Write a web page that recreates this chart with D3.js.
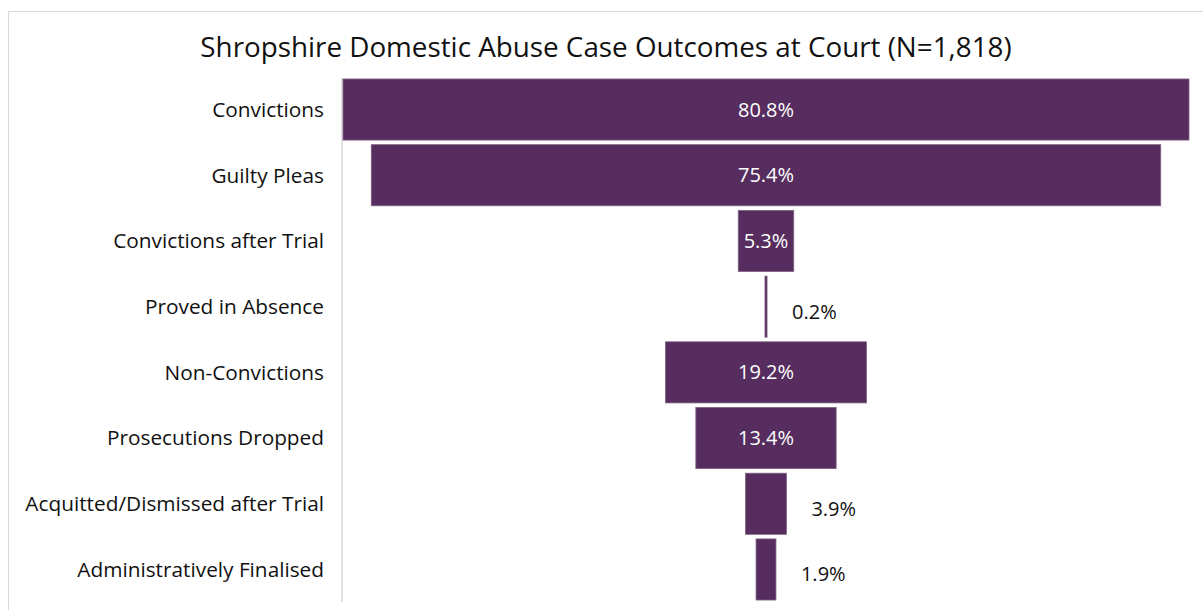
<!DOCTYPE html>
<meta charset="utf-8">
<style>
  body { margin: 0; background: #fff; }
  svg { font-family: "Open Sans", "Liberation Sans", Arial, sans-serif; }
  .frame { fill: none; stroke: #d9d9d9; }
  .axis-line { stroke: #d9d9d9; stroke-width: 1.5; }
  .bar { fill: #562d5e; stroke: #7f6284; stroke-width: 0.8; }
</style>
<body>
  <svg id="chart" width="1203" height="610"></svg>
</body>
<script src="https://d3js.org/d3.v7.min.js"></script>
<script>
// data
var categories = ["Convictions", "Guilty Pleas", "Convictions after Trial", "Proved in Absence",
  "Non-Convictions", "Prosecutions Dropped", "Acquitted/Dismissed after Trial", "Administratively Finalised"];
var values = [80.8, 75.4, 5.3, 0.2, 19.2, 13.4, 3.9, 1.9];
var valueLabels = ["80.8%", "75.4%", "5.3%", "0.2%", "19.2%", "13.4%", "3.9%", "1.9%"];
var title = "Shropshire Domestic Abuse Case Outcomes at Court (N=1,818)";

var svg = d3.select("#chart");
var plotLeft = 343, plotRight = 1189, plotTop = 77, plotBottom = 602;
var mid = (plotLeft + plotRight) / 2;

// outer chart border
svg.append("rect").attr("class", "frame")
  .attr("x", 8.5).attr("y", 11.5).attr("width", 1210).attr("height", 620);

svg.append("text")
  .attr("x", 606).attr("y", 57)
  .attr("text-anchor", "middle")
  .style("font-size", "27.8px").style("fill", "#111")
  .text(title);

var rows = categories.map(function (c, i) { return { cat: c, val: values[i], lab: valueLabels[i] }; });

var x = d3.scaleLinear().domain([0, d3.max(values)]).range([0, plotRight - plotLeft]);
var y = d3.scaleBand().domain(categories).range([plotTop, plotBottom]).paddingInner(0.07).paddingOuter(0.03);

svg.append("line").attr("class", "axis-line")
  .attr("x1", plotLeft - 1).attr("x2", plotLeft - 1)
  .attr("y1", plotTop + 1).attr("y2", plotBottom);

// category labels
svg.selectAll(".cat").data(rows).enter().append("text")
  .attr("class", "cat")
  .attr("x", 324)
  .attr("y", function (d) { return y(d.cat) + y.bandwidth() / 2; })
  .attr("dy", "0.35em")
  .attr("text-anchor", "end")
  .style("font-size", "20.8px").style("fill", "#111")
  .text(function (d) { return d.cat; });

// funnel bars, centred on the plot
svg.selectAll(".bar").data(rows).enter().append("rect")
  .attr("class", "bar")
  .attr("x", function (d) { return mid - x(d.val) / 2; })
  .attr("y", function (d) { return y(d.cat); })
  .attr("width", function (d) { return Math.max(x(d.val), 1.5); })
  .attr("height", y.bandwidth());

// value labels: inside (white) when the bar is wide enough, otherwise to the right
svg.selectAll(".val").data(rows).enter().append("text")
  .attr("class", "val")
  .attr("x", function (d) { return d.val >= 5 ? mid : mid + x(d.val) / 2 + 25; })
  .attr("y", function (d) { return y(d.cat) + y.bandwidth() / 2 + (d.val >= 5 ? 0 : 5); })
  .attr("dy", "0.35em")
  .attr("text-anchor", function (d) { return d.val >= 5 ? "middle" : "start"; })
  .style("font-size", "20px")
  .style("fill", function (d) { return d.val >= 5 ? "#fff" : "#111"; })
  .text(function (d) { return d.lab; });
</script>
